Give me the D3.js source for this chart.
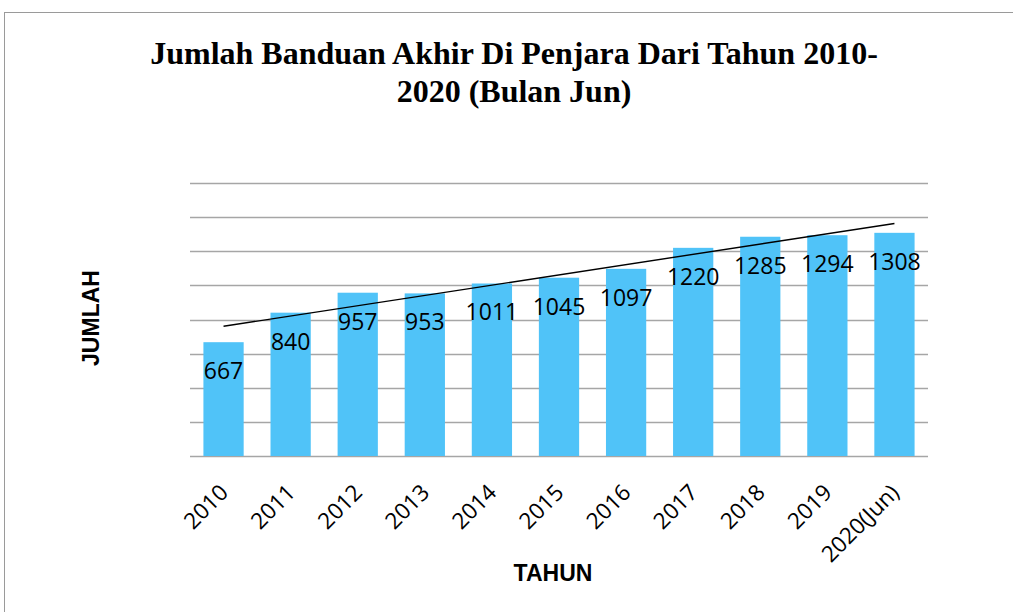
<!DOCTYPE html>
<html>
<head>
<meta charset="utf-8">
<script src="https://cdn.jsdelivr.net/npm/d3@7"></script>
<style>
  body { margin: 0; background: #fff; }
  svg { display: block; }
</style>
</head>
<body>
<div id="wrapper"></div>
<script>
// data
const years = ["2010", "2011", "2012", "2013", "2014", "2015", "2016", "2017", "2018", "2019", "2020(Jun)"];
const values = [667, 840, 957, 953, 1011, 1045, 1097, 1220, 1285, 1294, 1308];
const gridTicks = [0, 200, 400, 600, 800, 1000, 1200, 1400, 1600];
const titleLines = ["Jumlah Banduan Akhir Di Penjara Dari Tahun 2010-", "2020 (Bulan Jun)"];

function buildChart() {
    const width = 1013, height = 612;
    const plot = { left: 190, right: 928, top: 183, bottom: 456 };

    const svg = d3.select("#wrapper").append("svg")
        .attr("width", width)
        .attr("height", height);

    // chart frame (cut off at right/bottom like the original)
    svg.append("rect")
        .attr("x", 4.5).attr("y", 12.5)
        .attr("width", 1020).attr("height", 620)
        .attr("fill", "none")
        .attr("stroke", "#9a9a9a")
        .attr("stroke-width", 1);

    const x = d3.scaleBand()
        .domain(years)
        .range([plot.left, plot.right])
        .paddingInner(0.4)
        .paddingOuter(0.2);

    const y = d3.scaleLinear()
        .domain([0, 1600])
        .range([plot.bottom, plot.top]);

    // gridlines
    svg.append("g")
        .selectAll("line")
        .data(gridTicks)
        .enter()
        .append("line")
        .attr("x1", plot.left)
        .attr("x2", plot.right)
        .attr("y1", d => Math.round(y(d)) + 0.5)
        .attr("y2", d => Math.round(y(d)) + 0.5)
        .attr("stroke", "#a6a6a6")
        .attr("stroke-width", 1.3);

    // bars
    svg.append("g")
        .selectAll("rect")
        .data(values)
        .enter()
        .append("rect")
        .attr("x", (d, i) => x(years[i]))
        .attr("y", d => y(d))
        .attr("width", x.bandwidth())
        .attr("height", d => y(0) - y(d))
        .attr("fill", "#50c3f8");

    // linear trendline (least squares over the bar values)
    const n = values.length;
    const xm = (n - 1) / 2;
    const ym = d3.mean(values);
    let sxy = 0, sxx = 0;
    values.forEach((v, i) => { sxy += (i - xm) * (v - ym); sxx += (i - xm) * (i - xm); });
    const slope = sxy / sxx;
    const icpt = ym - slope * xm;
    const cx = i => x(years[i]) + x.bandwidth() / 2;
    svg.append("line")
        .attr("x1", cx(0))
        .attr("y1", y(icpt))
        .attr("x2", cx(n - 1))
        .attr("y2", y(icpt + slope * (n - 1)))
        .attr("stroke", "#000")
        .attr("stroke-width", 1.4);

    // value labels inside the bar top
    svg.append("g")
        .selectAll("text")
        .data(values)
        .enter()
        .append("text")
        .attr("x", (d, i) => cx(i))
        .attr("y", d => y(d) + 37)
        .attr("text-anchor", "middle")
        .attr("font-family", "'Open Sans', sans-serif")
        .attr("font-size", 23)
        .attr("fill", "#000")
        .text(d => d);

    // rotated category labels
    svg.append("g")
        .selectAll("text")
        .data(years)
        .enter()
        .append("text")
        .attr("transform", (d, i) => `translate(${cx(i) + 6},${plot.bottom + 38}) rotate(-45)`)
        .attr("text-anchor", "end")
        .attr("font-family", "'Open Sans', sans-serif")
        .attr("font-size", 22.5)
        .attr("fill", "#000")
        .text(d => d);

    // title
    svg.append("g")
        .selectAll("text")
        .data(titleLines)
        .enter()
        .append("text")
        .attr("x", 514)
        .attr("y", (d, i) => 64 + i * 38)
        .attr("text-anchor", "middle")
        .attr("font-family", "'Liberation Serif', 'Times New Roman', serif")
        .attr("font-weight", "bold")
        .attr("font-size", 32)
        .attr("fill", "#000")
        .text(d => d);

    // axis titles
    svg.append("text")
        .attr("x", 553)
        .attr("y", 581)
        .attr("text-anchor", "middle")
        .attr("font-family", "'Liberation Sans', Arial, sans-serif")
        .attr("font-weight", "bold")
        .attr("font-size", 23)
        .text("TAHUN");

    svg.append("text")
        .attr("transform", "translate(99,318) rotate(-90)")
        .attr("text-anchor", "middle")
        .attr("font-family", "'Liberation Sans', Arial, sans-serif")
        .attr("font-weight", "bold")
        .attr("font-size", 23)
        .text("JUMLAH");
}

buildChart();
</script>
</body>
</html>
